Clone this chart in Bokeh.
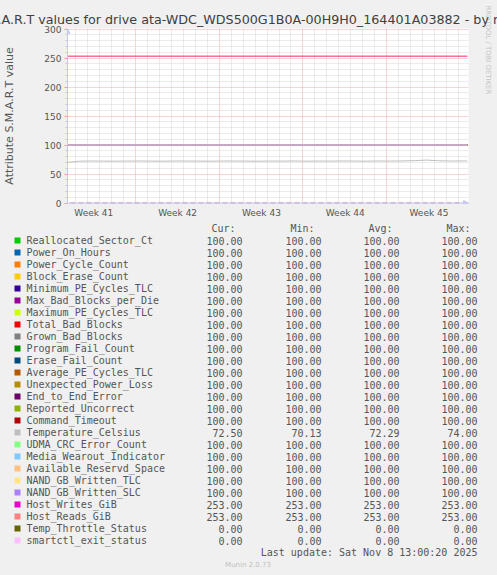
import math
from bokeh.plotting import figure
from bokeh.models import (Range1d, FixedTicker, Label, Span, ColumnDataSource,
                          Arrow, NormalHead, GlobalInlineStyleSheet)
from bokeh.layouts import column
from bokeh.core.properties import value
from bokeh.embed import file_html
from bokeh.resources import INLINE

# ---------------- data ----------------
title_text = "S.M.A.R.T values for drive ata-WDC_WDS500G1B0A-00H9H0_164401A03882 - by month"
y_label_text = "Attribute S.M.A.R.T value"
side_text = "RRDTOOL / TOBI OETIKER"
last_update_text = "Last update: Sat Nov  8 13:00:20 2025"
munin_text = "Munin 2.0.73"
col_headers = ["Cur:", "Min:", "Avg:", "Max:"]

week_labels = ["Week 41", "Week 42", "Week 43", "Week 44", "Week 45"]
week_label_pos = [2.2, 9.2, 16.2, 23.2, 30.2]      # days from graph start
week_bounds = [5.67, 12.67, 19.67, 26.67]

names = ["Reallocated_Sector_Ct", "Power_On_Hours", "Power_Cycle_Count", "Block_Erase_Count",
         "Minimum_PE_Cycles_TLC", "Max_Bad_Blocks_per_Die", "Maximum_PE_Cycles_TLC",
         "Total_Bad_Blocks", "Grown_Bad_Blocks", "Program_Fail_Count", "Erase_Fail_Count",
         "Average_PE_Cycles_TLC", "Unexpected_Power_Loss", "End_to_End_Error",
         "Reported_Uncorrect", "Command_Timeout", "Temperature_Celsius", "UDMA_CRC_Error_Count",
         "Media_Wearout_Indicator", "Available_Reservd_Space", "NAND_GB_Written_TLC",
         "NAND_GB_Written_SLC", "Host_Writes_GiB", "Host_Reads_GiB", "Temp_Throttle_Status",
         "smartctl_exit_status"]
colors = ["#00CC00", "#0066B3", "#FF8000", "#FFCC00", "#330099", "#990099", "#CCFF00",
          "#FF0000", "#808080", "#008F00", "#00487D", "#B35A00", "#B38F00", "#6B006B",
          "#8FB300", "#B30000", "#BEBEBE", "#80FF80", "#80C9FF", "#FFC080", "#FFE680",
          "#AA80FF", "#EE00CC", "#FF8080", "#666600", "#FFBFFF"]
cur_vals = [100, 100, 100, 100, 100, 100, 100, 100, 100, 100, 100, 100, 100, 100, 100, 100,
            72.50, 100, 100, 100, 100, 100, 253, 253, 0, 0]
min_vals = [100, 100, 100, 100, 100, 100, 100, 100, 100, 100, 100, 100, 100, 100, 100, 100,
            70.13, 100, 100, 100, 100, 100, 253, 253, 0, 0]
avg_vals = [100, 100, 100, 100, 100, 100, 100, 100, 100, 100, 100, 100, 100, 100, 100, 100,
            72.29, 100, 100, 100, 100, 100, 253, 253, 0, 0]
max_vals = [100, 100, 100, 100, 100, 100, 100, 100, 100, 100, 100, 100, 100, 100, 100, 100,
            74.00, 100, 100, 100, 100, 100, 253, 253, 0, 0]

days = [0, 1, 2, 3, 4, 5, 6, 7, 8, 9, 10, 11, 12, 13, 14, 15, 16, 17, 18, 19, 20, 21, 22,
        23, 24, 25, 26, 27, 28, 29, 30, 31, 32, 33, 33.4]
temperature = [70.13, 72.1, 72.4, 72.2, 72.1, 72.3, 72.4, 72.2, 72.1, 72.4, 72.3, 72.2, 72.1,
               72.4, 72.3, 72.2, 72.1, 72.3, 72.2, 72.4, 72.1, 72.3, 72.2, 72.4, 72.3, 72.1,
               72.4, 72.3, 72.5, 73.0, 74.0, 72.8, 72.4, 72.6, 72.5]
temp_index = 16

x_start, x_end = 0.0, 33.5
y_min, y_max = 0, 300
y_major = [0, 50, 100, 150, 200, 250, 300]

# ---------------- layout / styles ----------------
BG = "#f0f0f0"
TXT = "#555555"
W, H = 497, 575
CH = 222                                   # height of the chart part
FRAME_L, FRAME_R, FRAME_T, FRAME_B = 66, 468, 28, 203
FRAME_W, FRAME_H = FRAME_R - FRAME_L, FRAME_B - FRAME_T
px_day = FRAME_W / (x_end - x_start)
px_unit = 174 / (y_max - y_min)
y_lo = y_min - 0.5 / px_unit            # half-pixel shift so lines are crisp
y_hi = y_max + 0.5 / px_unit


def dx(px):
    return x_start + (px - FRAME_L) / px_day


def dy(py):
    return y_lo + (FRAME_B - py) / px_unit


p = figure(width=W, height=CH, x_range=Range1d(x_start, x_end), y_range=Range1d(y_lo, y_hi),
           output_backend="svg", toolbar_location=None, frame_align=False,
           min_border_left=FRAME_L, min_border_right=W - FRAME_R, min_border_top=FRAME_T,
           min_border_bottom=CH - FRAME_B, background_fill_color="white", border_fill_color=BG,
           outline_line_color=None)

p.title.text = title_text
p.title.text_font = "DejaVu Sans"
p.title.text_font_size = "12.7px"
p.title.text_font_style = "normal"
p.title.text_color = "#404040"
p.title.align = "left"
p.title.offset = -93
p.title.standoff = 4

# grids
minor_y = [v for v in range(y_min, y_max + 1, 10) if v % 50]
day_lines = [week_bounds[0] + k for k in range(-6, 28)]
day_lines = [d for d in day_lines if x_start < d < x_end and min(abs(d - b) for b in week_bounds) > 0.1]
p.ygrid.ticker = FixedTicker(ticks=y_major, minor_ticks=minor_y)
p.xgrid.ticker = FixedTicker(ticks=week_bounds, minor_ticks=day_lines)
for g in (p.xgrid, p.ygrid):
    g.grid_line_color = "#eeaaaa"
    g.grid_line_dash = "1 1"
    g.minor_grid_line_color = "#d6d6d6"
    g.minor_grid_line_dash = "1 1"

# axes
p.yaxis.ticker = FixedTicker(ticks=y_major, minor_ticks=minor_y)
p.xaxis.ticker = FixedTicker(ticks=week_label_pos)
p.xaxis.major_label_overrides = {pos: lab for pos, lab in zip(week_label_pos, week_labels)}
for ax in (p.xaxis, p.yaxis):
    ax.axis_line_color = "#c8c8f0"
    ax.major_label_text_font = "DejaVu Sans"
    ax.major_label_text_font_size = "9px"
    ax.major_label_text_color = TXT
p.xaxis.major_tick_line_color = None
p.xaxis.minor_tick_line_color = None
p.xaxis.major_tick_out = 0
p.xaxis.major_tick_in = 0
p.xaxis.major_label_standoff = 4
p.yaxis.major_tick_out = 3
p.yaxis.major_tick_in = 0
p.yaxis.major_tick_line_color = "#e8a0a0"
p.yaxis.minor_tick_out = 2
p.yaxis.minor_tick_in = 0
p.yaxis.minor_tick_line_color = "#c8c8c8"
p.yaxis.major_label_standoff = 3
p.yaxis.axis_label = y_label_text
p.yaxis.axis_label_text_font = "DejaVu Sans"
p.yaxis.axis_label_text_font_size = "11px"
p.yaxis.axis_label_text_font_style = "normal"
p.yaxis.axis_label_text_color = TXT
p.yaxis.axis_label_standoff = 25

# series lines (drawn in order, later on top)
for i, col in enumerate(colors):
    if i == temp_index:
        p.line(days, temperature, line_color=col, line_width=1)
    else:
        p.line([days[0], days[-1]], [cur_vals[i], cur_vals[i]], line_color=col, line_width=1)

p.add_layout(Span(location=y_min, dimension="width", line_color="#e4e4ff", line_width=2,
                  line_dash="3 5"))

# axis arrows
AX = "#c8c8f0"
p.add_layout(Arrow(end=NormalHead(size=5, fill_color=AX, line_color=AX),
                   x_start=x_start, y_start=y_max, x_end=x_start, y_end=y_hi,
                   line_color=AX, line_width=1))
p.add_layout(Arrow(end=NormalHead(size=5, fill_color=AX, line_color=AX),
                   x_start=x_end - 4 / px_day, y_start=y_min, x_end=x_end, y_end=y_min,
                   line_color=AX, line_width=1))

# side credit text, in the right border panel
p.add_layout(Label(x=dx(487.5), y=dy(5), text=side_text,
                   angle=-math.pi / 2, text_align="left", text_baseline="middle",
                   text_font="DejaVu Sans", text_font_size="6.9px", text_color="#c4c4c4"),
             "right")

# ---------------- legend (pixel coordinates of the page) ----------------
leg = figure(width=W, height=H - CH, x_range=Range1d(0, W), y_range=Range1d(H, CH),
             output_backend="svg", toolbar_location=None, frame_align=False,
             min_border=0, min_border_left=0, min_border_right=0, min_border_top=0,
             min_border_bottom=0, x_axis_location=None, y_axis_location=None,
             background_fill_color=BG, border_fill_color=BG, outline_line_color=None)
leg.xgrid.visible = False
leg.ygrid.visible = False

row0_px, row_step = 240, 12
rows_px = [row0_px + row_step * i for i in range(len(names))]
val_right_px = [242, 321, 399, 477]
MONO = value("DejaVu Sans Mono")

src = ColumnDataSource(dict(y=rows_px, name=names, color=colors,
                            c=[f"{v:.2f}" for v in cur_vals], mn=[f"{v:.2f}" for v in min_vals],
                            av=[f"{v:.2f}" for v in avg_vals], mx=[f"{v:.2f}" for v in max_vals]))
leg.scatter(x=17, y="y", source=src, marker="square", size=6, fill_color="color",
            line_color=None)
leg.text(x=26, y="y", text="name", source=src, text_font=MONO, text_font_size="10px",
         text_color=TXT, text_align="left", text_baseline="middle")
for xr, col in zip(val_right_px, ["c", "mn", "av", "mx"]):
    leg.text(x=xr, y="y", text=col, source=src, text_font=MONO, text_font_size="10px",
             text_color=TXT, text_align="right", text_baseline="middle")
hdr = ColumnDataSource(dict(x=[v - 7 for v in val_right_px], y=[row0_px - row_step] * 4,
                            t=col_headers))
leg.text(x="x", y="y", text="t", source=hdr, text_font=MONO, text_font_size="10px",
         text_color=TXT, text_align="right", text_baseline="middle")
foot = ColumnDataSource(dict(x=[483], y=[rows_px[-1] + row_step], t=[last_update_text]))
leg.text(x="x", y="y", text="t", source=foot, text_font=MONO, text_font_size="10px",
         text_color=TXT, text_align="right", text_baseline="middle")
mun = ColumnDataSource(dict(x=[247.5], y=[rows_px[-1] + 2 * row_step], t=[munin_text]))
leg.text(x="x", y="y", text="t", source=mun, text_font=value("DejaVu Sans"),
         text_font_size="7px", text_color="#c0c0c0", text_align="center", text_baseline="middle")

layout = column(p, leg, spacing=0,
                stylesheets=[GlobalInlineStyleSheet(css="html, body { background-color: #f0f0f0; }")])

open("out.html", "w").write(file_html(layout, INLINE))
